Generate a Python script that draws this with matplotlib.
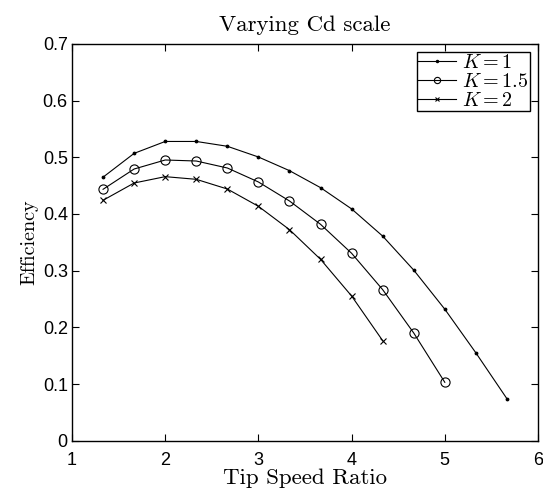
import matplotlib
matplotlib.use("Agg")
import matplotlib.pyplot as plt
import numpy as np

plt.rcParams['mathtext.fontset'] = 'cm'

tsr = [4/3, 5/3, 2, 7/3, 8/3, 3, 10/3, 11/3, 4, 13/3, 14/3, 5, 16/3, 17/3]
eff_k1 = [0.465, 0.507, 0.528, 0.528, 0.5195, 0.5006, 0.4765, 0.4465, 0.409, 0.361, 0.301, 0.232, 0.155, 0.074]
eff_k15 = [0.4436, 0.4794, 0.4953, 0.4935, 0.4812, 0.4565, 0.423, 0.3818, 0.3307, 0.2665, 0.190, 0.103]
eff_k2 = [0.4242, 0.4547, 0.4659, 0.4612, 0.4441, 0.4136, 0.3724, 0.320, 0.2553, 0.1765]
labels = [r'$K=1$', r'$K=1.5$', r'$K=2$']

fig = plt.figure(figsize=(5.43, 4.91), dpi=100)
ax = fig.add_axes([0.1326, 0.1025, 0.8582, 0.8079])

ax.plot(tsr[:len(eff_k1)], eff_k1, color='k', lw=0.8, marker='.', ms=3.5, label=labels[0])
ax.plot(tsr[:len(eff_k15)], eff_k15, color='k', lw=0.8, marker='o', mfc='none', mew=0.8, ms=6.6, label=labels[1])
ax.plot(tsr[:len(eff_k2)], eff_k2, color='k', lw=0.8, marker='x', mew=0.8, ms=5, label=labels[2])

ax.set_xlim(1, 6)
ax.set_ylim(0, 0.7)
ax.set_xticks([1, 2, 3, 4, 5, 6])
ax.set_yticks(np.round(np.arange(0, 0.71, 0.1), 1))
ax.set_yticklabels(['0', '0.1', '0.2', '0.3', '0.4', '0.5', '0.6', '0.7'])
ax.tick_params(direction='in', top=True, right=True, length=5, width=0.8,
               labelsize=13)
ax.tick_params(axis='x', pad=8)
ax.tick_params(axis='y', pad=3)
for lab in ax.get_xticklabels() + ax.get_yticklabels():
    lab.set_fontfamily('Liberation Sans')
for s in ax.spines.values():
    s.set_linewidth(1.0)

ax.set_title('Varying Cd scale', fontfamily='cmr10', fontsize=16.5, pad=9)
ax.set_xlabel('Tip Speed Ratio', fontfamily='cmr10', fontsize=16.5, labelpad=0)
ax.set_ylabel('Efficiency', fontfamily='cmr10', fontsize=14.5, labelpad=3)

leg = ax.legend(loc='upper right', fontsize=14.5, frameon=True, fancybox=False,
                borderpad=0.05, labelspacing=0.0, handlelength=1.9, handletextpad=0.3,
                borderaxespad=0.4, edgecolor='k', framealpha=1)
leg.get_frame().set_linewidth(1.0)
for ln, ms in zip(leg.get_lines(), [3, 4.5, 3.5]):
    ln.set_markersize(ms)

fig.savefig('out.png', dpi=100)
